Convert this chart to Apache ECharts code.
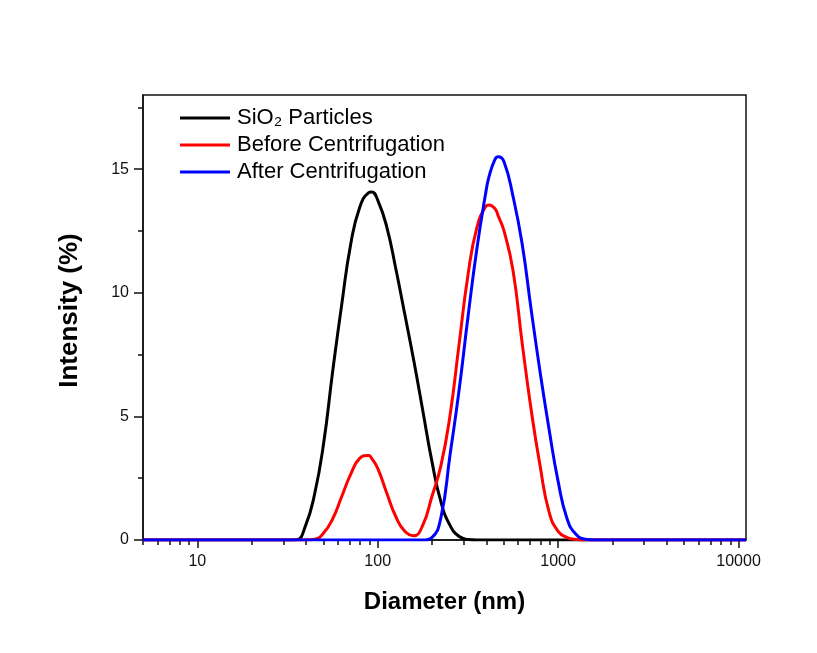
<!DOCTYPE html>
<html>
<head>
<meta charset="utf-8">
<script src="https://cdn.jsdelivr.net/npm/echarts@6.0.0/dist/echarts.min.js"></script>
<style>
    html, body { margin: 0; padding: 0; background: #fff; }
    #main { width: 817px; height: 653px; }
</style>
</head>
<body>
<div id="main"></div>
<script>

// particle size distribution (diameter in nm, intensity in %)
var diameters = [5, 10, 20,
    31.62, 35.48, 39.81, 44.67, 50.12, 56.23, 63.1, 70.79, 79.43, 89.13, 92.6,
    100, 112.2, 125.9, 141.3, 158.5, 177.8, 199.5, 223.9, 251.2, 281.8,
    316.2, 354.8, 398.1, 414, 446.7, 466, 501.2, 562.3, 631, 707.9, 794.3, 891.3,
    1000, 1122, 1259, 1413, 1585, 1778,
    3000, 11000];

var sio2 = [0, 0, 0,
    0, 0.01, 0.58, 1.85, 3.9, 6.8, 9.5, 11.95, 13.45, 14.05, 14.08,
    13.75, 12.67, 10.98, 9.13, 7.25, 5.23, 3.2, 1.55, 0.6, 0.15,
    0.02, 0, 0, 0, 0, 0, 0, 0, 0, 0, 0, 0,
    0, 0, 0, 0, 0, 0,
    0, 0];

var before = [0, 0, 0,
    0, 0, 0, 0.03, 0.28, 0.85, 1.75, 2.65, 3.3, 3.42, 3.3,
    2.9, 1.9, 0.95, 0.35, 0.17, 0.6, 1.75, 3.0, 5.0, 7.85,
    10.7, 12.65, 13.5, 13.55, 13.4, 13.1, 12.5, 10.9, 8.0, 5.3, 3.0, 1.13,
    0.35, 0.1, 0.02, 0, 0, 0,
    0, 0];

var after = [0, 0, 0,
    0, 0, 0, 0, 0, 0, 0, 0, 0, 0, 0,
    0, 0, 0, 0, 0, 0, 0.1, 0.9, 3.4, 6.0,
    9.0, 11.8, 14.1, 14.7, 15.4, 15.5, 15.3, 13.9, 12.0, 9.35, 6.8, 4.47,
    2.37, 0.85, 0.22, 0.03, 0, 0,
    0, 0];

var xMajorTicks = [10, 100, 1000, 10000];
var xMinorTicks = [5, 6, 7, 8, 9, 20, 30, 40, 50, 60, 70, 80, 90,
    200, 300, 400, 500, 600, 700, 800, 900,
    2000, 3000, 4000, 5000, 6000, 7000, 8000, 9000];
var yMajorTicks = [0, 5, 10, 15];
var yMinorTicks = [2.5, 7.5, 12.5, 17.5];

var seriesNames = ['SiO\u2082 Particles', 'Before Centrifugation', 'After Centrifugation'];

function pairs(values) {
    return diameters.map(function (d, i) { return [d, values[i]]; });
}

var font = 'Arial, "Liberation Sans", sans-serif';
var axisColor = '#111';

var chart = echarts.init(document.getElementById('main'));

var option = {
    animation: false,
    backgroundColor: '#fff',
    grid: {
        left: 143,
        right: 71,
        top: 95,
        bottom: 113,
        show: true,
        borderColor: axisColor,
        borderWidth: 1.5
    },
    legend: {
        orient: 'vertical',
        left: 180,
        top: 106,
        padding: 0,
        icon: 'rect',
        itemWidth: 50,
        itemHeight: 3,
        itemGap: 3,
        textStyle: { fontFamily: font, fontSize: 22, color: '#000', lineHeight: 24, padding: [0, 0, 0, 2] },
        data: seriesNames
    },
    xAxis: [
        {
            type: 'log',
            logBase: 10,
            min: 5,
            max: 11000,
            name: 'Diameter (nm)',
            nameLocation: 'middle',
            nameGap: 50,
            nameTextStyle: { fontFamily: font, fontSize: 24, fontWeight: 'bold', color: '#000' },
            axisLine: { lineStyle: { color: axisColor, width: 1.5 } },
            axisTick: { length: 8, lineStyle: { color: axisColor, width: 1.5 }, customValues: xMajorTicks },
            axisLabel: {
                customValues: xMajorTicks,
                margin: 14,
                fontFamily: font,
                fontSize: 16,
                color: '#111',
                formatter: function (v) { return String(Math.round(v)); }
            },
            splitLine: { show: false }
        },
        {
            type: 'log',
            logBase: 10,
            min: 5,
            max: 11000,
            position: 'bottom',
            axisLine: { show: false },
            axisTick: { length: 5, lineStyle: { color: axisColor, width: 1.5 }, customValues: xMinorTicks },
            axisLabel: { show: false },
            splitLine: { show: false }
        }
    ],
    yAxis: [
        {
            type: 'value',
            min: 0,
            max: 18,
            interval: 5,
            name: 'Intensity (%)',
            nameLocation: 'middle',
            nameGap: 60,
            nameTextStyle: { fontFamily: font, fontSize: 26, fontWeight: 'bold', color: '#000', padding: [0, 0, 0, 14] },
            axisLine: { show: true, lineStyle: { color: axisColor, width: 1.5 } },
            axisTick: { show: true, length: 9, lineStyle: { color: axisColor, width: 1.5 }, customValues: yMajorTicks },
            axisLabel: { customValues: yMajorTicks, margin: 14, fontFamily: font, fontSize: 16, color: '#111' },
            splitLine: { show: false }
        },
        {
            type: 'value',
            min: 0,
            max: 18,
            position: 'left',
            axisLine: { show: false },
            axisTick: { show: true, length: 5, lineStyle: { color: axisColor, width: 1.5 }, customValues: yMinorTicks },
            axisLabel: { show: false },
            splitLine: { show: false }
        }
    ],
    series: [
        { name: seriesNames[0], color: '#000000', data: pairs(sio2) },
        { name: seriesNames[1], color: '#ff0000', data: pairs(before) },
        { name: seriesNames[2], color: '#0000ff', data: pairs(after) }
    ].map(function (s) {
        return {
            name: s.name,
            type: 'line',
            smooth: 0.5,
            symbol: 'none',
            showSymbol: false,
            xAxisIndex: 0,
            yAxisIndex: 0,
            itemStyle: { color: s.color },
            lineStyle: { color: s.color, width: 3 },
            data: s.data
        };
    })
};

chart.setOption(option);
</script>
</body>
</html>
